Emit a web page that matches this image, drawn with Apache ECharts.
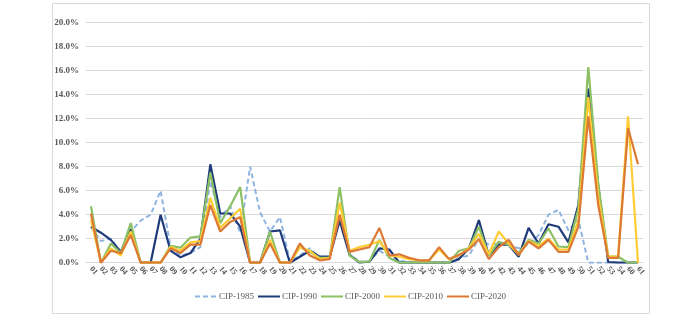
<!DOCTYPE html>
<html>
<head>
<meta charset="utf-8">
<script src="https://cdn.jsdelivr.net/npm/echarts@6/dist/echarts.min.js"></script>
<style>html,body{margin:0;padding:0;background:#fff}#c{width:700px;height:316px}</style>
</head>
<body>
<div id="c"></div>
<script>
const categories = ['01','02','03','04','05','06','07','08','09','10','11','12','13','14','15','16','17','18','19','20','21','22','23','24','25','26','27','28','29','30','31','32','33','34','35','36','37','38','39','40','41','42','43','44','45','46','47','48','49','50','51','52','53','54','60','61'];
const yTicks = [0,2,4,6,8,10,12,14,16,18,20];
const cip1985 = [3.0,1.8,2.0,0.9,2.6,3.5,4.0,6.0,1.3,0.6,0.8,1.3,6.8,3.8,4.7,2.5,8.0,4.2,2.6,3.8,0.1,0.6,1.2,0.4,0.5,3.8,0.7,0.1,0.1,1.0,0.5,0.2,0,0,0,0,0,0.4,0.6,2.0,1.5,1.6,1.5,1.2,1.5,2.3,4.0,4.4,2.7,3.6,0,0,0,null,null,null];
const cip1990 = [3.0,2.5,1.9,0.9,2.8,0,0,4.0,1.0,0.45,0.8,2.0,8.2,4.1,4.1,3.0,0,0,2.6,2.7,0,0.5,1.0,0.5,0.5,3.5,0.65,0,0.1,1.2,1.1,0,0,0,0,0,0,0.3,1.2,3.55,0.6,1.5,1.5,0.5,2.9,1.6,3.2,3.0,1.7,4.8,14.5,6.4,0.05,0,0,0];
const cip2000 = [4.7,0,1.6,0.8,3.3,0,0,0,1.4,1.25,2.1,2.2,7.5,3.3,4.7,6.3,0,0,2.6,0,0,1.3,0.9,0.4,0.4,6.3,0.6,0.05,0.1,1.9,0.4,0,0,0,0,0,0,1.0,1.2,3.0,0.6,1.75,1.5,0.8,1.9,1.6,2.85,1.35,1.3,4.5,16.3,6.6,0.5,0.5,0,0];
const cip2010 = [3.6,0,1.2,0.6,2.6,0,0,0,1.3,1.0,1.7,1.8,5.4,2.9,3.7,4.5,0,0,1.9,0,0,1.3,1.0,0.3,0.4,5.0,1.0,1.3,1.5,1.8,0.6,0.5,0.3,0.2,0.2,1.1,0.3,0.6,1.2,2.4,0.7,2.6,1.6,0.65,1.8,1.4,2.0,1.1,1.1,3.5,13.8,5.5,0.5,0.5,12.2,0];
const cip2020 = [4.1,0,1.0,0.8,2.3,0,0,0,1.2,0.8,1.5,1.5,4.8,2.6,3.4,3.8,0,0,1.6,0,0,1.6,0.6,0.2,0.3,4.0,0.9,1.1,1.3,2.9,0.6,0.7,0.4,0.2,0.2,1.3,0.3,0.65,1.1,1.95,0.3,1.3,1.9,0.65,1.75,1.2,1.9,0.9,0.9,3.0,12.2,4.8,0.4,0.4,11.2,8.2];

const font = '"Liberation Serif", "Times New Roman", serif';
function mk(name, data, color, dashed) {
  return {
    name, type: 'line', data, symbol: 'none', connectNulls: false,
    lineStyle: { color, width: dashed ? 2 : 2.2, type: dashed ? [5,3] : 'solid' },
    itemStyle: { color },
    emphasis: { disabled: true }
  };
}
const chart = echarts.init(document.getElementById('c'), null, { renderer: 'canvas' });
chart.setOption({
  animation: false,
  backgroundColor: '#fff',
  graphic: [{ type: 'rect', shape: { x: 52.5, y: 3.5, width: 597, height: 310 }, style: { fill: 'none', stroke: '#d9d9d9', lineWidth: 1 }, silent: true, z: -1 }],
  grid: { left: 86, right: 57, top: 22.7, bottom: 53.3, containLabel: false },
  legend: {
    bottom: 10, left: 'center', itemWidth: 22, itemHeight: 8, itemGap: 3,
    itemStyle: { color: 'transparent', borderWidth: 0, opacity: 0 },
    textStyle: { fontFamily: font, fontSize: 9, color: '#595959', padding: [0,0,0,-3] },
    data: ['CIP-1985','CIP-1990','CIP-2000','CIP-2010','CIP-2020']
  },
  xAxis: {
    type: 'category', data: categories, boundaryGap: true,
    axisLine: { show: true, lineStyle: { color: '#d9d9d9' } },
    axisTick: { show: false },
    axisLabel: { interval: 0, rotate: -50, fontFamily: font, fontSize: 8, fontWeight: 'bold', color: '#595959', margin: 5 }
  },
  yAxis: {
    type: 'value', min: 0, max: 20, interval: 2,
    axisLine: { show: false }, axisTick: { show: false },
    splitLine: { lineStyle: { color: '#d9d9d9', width: 1 } },
    axisLabel: { formatter: v => v.toFixed(1) + '%', fontFamily: font, fontSize: 9, fontWeight: 'bold', color: '#595959', margin: 7 }
  },
  series: [
    mk('CIP-1985', cip1985, '#8fb4e0', true),
    mk('CIP-1990', cip1990, '#1f3a7a', false),
    mk('CIP-2000', cip2000, '#8cc065', false),
    mk('CIP-2010', cip2010, '#ffcc33', false),
    mk('CIP-2020', cip2020, '#dc7a35', false)
  ]
});
</script>
</body>
</html>
